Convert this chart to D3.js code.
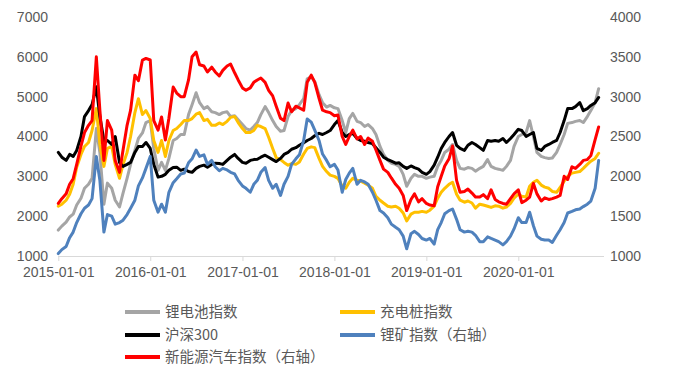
<!DOCTYPE html>
<html><head><meta charset="utf-8">
<script src="https://cdn.jsdelivr.net/npm/d3@7"></script>
<style>
html,body{margin:0;padding:0;background:#fff;}
text{font-family:"Liberation Sans","Noto Sans CJK SC",sans-serif;fill:#595959;}
.lg{font-family:"Noto Sans CJK SC",sans-serif;}
</style></head>
<body><svg id="c" width="675" height="382"></svg>
<script>
// Semi-monthly sample dates (1st and 15th), 2015-01-01 .. 2020-11-15
const startDate = "2015-01-01", endDate = "2020-11-15";
const yearTicks = ["2015-01-01","2016-01-01","2017-01-01","2018-01-01","2019-01-01","2020-01-01"];
const leftTicks = [1000,2000,3000,4000,5000,6000,7000];
const rightTicks = [1000,1500,2000,2500,3000,3500,4000];

const seriesNames = ["锂电池指数","充电桩指数","沪深300","锂矿指数（右轴）","新能源汽车指数（右轴）"];
const seriesColors = ["#A5A5A5","#FFC000","#000000","#4F81BD","#FF0000"];
const seriesAxis = ["left","left","left","right","right"];

const lithiumBattery = [
1650,1750,1850,1980,2050,2280,2450,2700,2800,2950,
4200,3600,2300,2830,2700,2400,2230,2580,2950,3300,
3650,3950,4090,4350,4400,3700,3150,3350,3150,3450,
3900,3950,4050,4050,4550,4800,5100,4850,4700,4750,
4620,4600,4550,4600,4620,4500,4520,4420,4300,4200,
4160,4250,4350,4550,4750,4600,4400,4250,4130,4150,
4500,4650,4700,4800,4950,5450,5500,5380,5050,4850,
4740,4780,4720,4700,4400,4100,4450,4580,4380,4350,
4250,4300,4200,4050,3750,3550,3400,3330,3300,3250,
3050,2750,2950,3050,3000,3000,2950,2980,3000,3250,
3400,3600,3680,3800,3400,3200,3180,3220,3200,3130,
3200,3250,3420,3250,3200,3180,3150,3250,3400,3750,
4000,4050,4100,4400,4000,3600,3500,3470,3450,3460,
3600,3800,4050,4330,4350,4380,4400,4350,4500,4650,
4850,5200];
const chargingPile = [
2250,2300,2400,2550,2800,3230,3550,3750,3850,4150,
4700,3800,3250,3700,3750,3300,2950,3300,3600,4000,
4600,4950,4550,4650,4450,3900,3600,3900,3500,3900,
4150,4200,4300,4400,4400,4450,4560,4600,4400,4430,
4280,4280,4340,4300,4380,4480,4500,4350,4200,4100,
4100,4150,4280,4250,4200,3980,3700,3470,3420,3350,
3280,3320,3300,3360,3560,3700,3740,3720,3450,3250,
3120,3030,3000,2950,2750,2700,2850,2950,2900,2880,
2830,2780,2700,2500,2400,2330,2250,2230,2250,2200,
2080,1880,2050,2100,2100,2120,2100,2150,2250,2450,
2600,2700,2800,2850,2550,2400,2350,2380,2330,2200,
2300,2280,2250,2220,2260,2250,2200,2230,2320,2450,
2550,2500,2480,2750,2850,2900,2780,2730,2700,2620,
2600,2720,2880,3000,3080,3100,3120,3200,3300,3380,
3450,3580];
const csi300 = [
3600,3480,3400,3550,3500,3650,4000,4500,4650,4800,
5250,4500,3900,3900,3800,4000,3350,3250,3300,3350,
3600,3750,3750,3850,3700,3300,2980,3000,3050,3150,
3220,3230,3150,3180,3120,3100,3200,3250,3280,3230,
3300,3330,3320,3300,3400,3480,3550,3450,3350,3330,
3400,3420,3430,3480,3530,3480,3420,3370,3450,3550,
3600,3680,3720,3780,3840,3900,3950,4020,4080,4050,
4100,4150,4300,4400,4100,4000,4050,4080,3950,3900,
3880,3850,3820,3720,3600,3480,3420,3380,3330,3340,
3250,3200,3260,3220,3180,3100,3050,3120,3280,3480,
3700,3850,4000,4100,3780,3700,3650,3780,3850,3800,
3720,3650,3900,3880,3900,3880,3950,3850,3950,4050,
4180,4150,4000,4050,4100,3700,3650,3750,3800,3850,
3900,4100,4400,4700,4700,4750,4850,4650,4700,4780,
4850,4980];
const lithiumMine = [
1030,1080,1120,1230,1300,1420,1530,1600,1640,1720,
2250,1950,1300,1520,1500,1400,1420,1450,1520,1600,
1700,1880,1980,2100,2250,1700,1550,1650,1550,1800,
1920,1970,2030,2040,2170,2220,2330,2250,2270,2150,
2200,2120,2070,2100,2080,2050,2030,1950,1880,1850,
1800,1900,1950,2050,2110,1950,1850,1900,1760,1900,
2000,2150,2220,2270,2450,2720,2680,2580,2450,2280,
2200,2120,2150,2080,1800,1960,2040,2100,1900,1950,
1930,1900,1800,1700,1570,1540,1480,1400,1360,1330,
1250,1090,1280,1310,1270,1220,1200,1220,1150,1330,
1420,1530,1570,1590,1460,1330,1300,1310,1300,1260,
1180,1180,1240,1220,1200,1180,1140,1180,1250,1340,
1480,1420,1420,1550,1380,1250,1210,1200,1200,1170,
1260,1330,1420,1540,1560,1580,1590,1620,1650,1690,
1850,2200];
const newEnergyVehicle = [
1660,1720,1780,1900,1970,2150,2380,2550,2640,2700,
3500,2830,2200,2700,2580,2200,2050,2330,2640,2830,
3270,3200,3460,3480,3460,2700,2580,2745,2455,2730,
3120,3045,3000,3000,3210,3500,3560,3400,3385,3310,
3370,3310,3260,3330,3385,3410,3300,3210,3110,3080,
3110,3180,3210,3235,3180,3080,3010,2880,2730,2700,
2920,2810,2880,2860,2830,3180,3270,3180,2980,2830,
2810,2800,2760,2770,2500,2400,2500,2580,2470,2500,
2400,2480,2440,2330,2200,2090,2050,1980,1900,1850,
1760,1570,1710,1780,1680,1720,1660,1640,1630,1870,
2000,2130,2220,2380,1950,1800,1810,1840,1790,1740,
1740,1770,1720,1830,1710,1680,1660,1650,1720,1780,
1830,1670,1700,1740,1910,1780,1690,1730,1710,1720,
1740,1760,2000,1960,2120,2100,2150,2200,2210,2260,
2460,2620];

const parse = d3.timeParse("%Y-%m-%d");
// build the semi-monthly date categories
const dates = [];
{
  let d = parse(startDate), end = parse(endDate);
  while (d <= end) {
    dates.push(new Date(d.getFullYear(), d.getMonth(), 1));
    dates.push(new Date(d.getFullYear(), d.getMonth(), 15));
    d = new Date(d.getFullYear(), d.getMonth() + 1, 1);
  }
}
const allSeries = [lithiumBattery, chargingPile, csi300, lithiumMine, newEnergyVehicle];

const svg = d3.select("#c");
const x0 = 58.3, pxPerYear = 92;
const dom0 = parse("2015-01-01"), dom1 = parse("2020-01-01");
const x = d3.scaleTime().domain([dom0, dom1]).range([x0, x0 + 5 * pxPerYear]);
const yL = d3.scaleLinear().domain([1000, 7000]).range([256, 17]);
const yR = d3.scaleLinear().domain([1000, 4000]).range([256, 17]);

// x axis
const axisG = svg.append("g").attr("transform", "translate(0,256)");
const xAxis = d3.axisBottom(x).tickValues(yearTicks.map(parse))
  .tickFormat(d3.timeFormat("%Y-%m-%d")).tickSizeOuter(0).tickSize(5).tickPadding(6);
axisG.call(xAxis);
axisG.select(".domain").remove();
axisG.append("line").attr("x1", x0).attr("x2", 604).attr("y1", 0.5).attr("y2", 0.5)
  .attr("stroke", "#D9D9D9").attr("stroke-width", 1);
axisG.selectAll(".tick line").attr("stroke", "#D9D9D9");
axisG.selectAll(".tick text").attr("font-size", 14).style("fill", "#595959")
  .attr("font-family", "Liberation Sans");

// left axis
const lg = svg.append("g").attr("transform", "translate(48,0)");
lg.call(d3.axisLeft(yL).tickValues(leftTicks).tickSize(0).tickPadding(0).tickFormat(d3.format("d")));
lg.select(".domain").remove();
lg.selectAll("text").attr("font-size", 14).style("fill", "#595959").attr("font-family", "Liberation Sans");

// right axis
const rg = svg.append("g").attr("transform", "translate(610,0)");
rg.call(d3.axisRight(yR).tickValues(rightTicks).tickSize(0).tickPadding(0).tickFormat(d3.format("d")));
rg.select(".domain").remove();
rg.selectAll("text").attr("font-size", 14).style("fill", "#595959").attr("font-family", "Liberation Sans");

// lines
allSeries.forEach((vals, k) => {
  const ys = seriesAxis[k] === "left" ? yL : yR;
  const line = d3.line().x((d, i) => x(dates[i])).y(d => ys(d));
  svg.append("path").datum(vals).attr("d", line)
    .attr("fill", "none").attr("stroke", seriesColors[k]).attr("stroke-width", 3)
    .attr("stroke-linejoin", "round").attr("stroke-linecap", "round");
});

// legend
const legendPos = [[125, 312], [340, 312], [125, 335], [340, 335], [125, 357]];
seriesNames.forEach((name, k) => {
  const [lx, ly] = legendPos[k];
  svg.append("line").attr("x1", lx).attr("x2", lx + 35).attr("y1", ly).attr("y2", ly)
    .attr("stroke", seriesColors[k]).attr("stroke-width", 4);
  svg.append("text").attr("class", "lg").attr("x", lx + 40).attr("y", ly)
    .attr("dy", "0.36em").attr("font-size", 14.5).text(name);
});
</script></body></html>
